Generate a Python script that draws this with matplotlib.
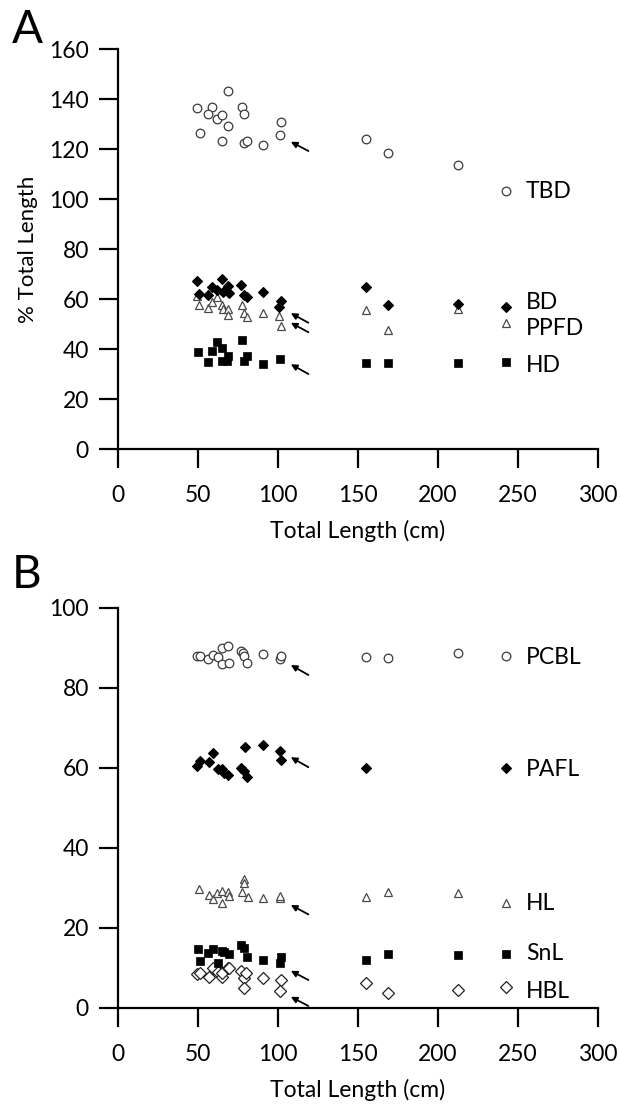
import matplotlib
matplotlib.use("Agg")
import matplotlib.pyplot as plt

plt.rcParams['font.family'] = ['Lato', 'DejaVu Sans']

# ---------------- Panel A data ----------------
tbd_x = [49.6, 59, 56.3, 61.9, 65.2, 69, 77.3, 78.5, 69, 51, 64.8, 78.8, 80.6, 90.4, 101, 101.7, 155.2, 169, 212.3]
tbd_y = [136.3, 136.7, 134, 131.9, 133.5, 143.3, 136.9, 133.9, 129.2, 126.3, 123.2, 122.4, 123.1, 121.6, 125.5, 130.8, 123.9, 118.4, 113.6]

bd_x = [49.4, 64.8, 59, 62.1, 68.5, 69.2, 77.1, 78.8, 80.4, 90.6, 50.8, 56.5, 65.4, 102, 100.8, 155.2, 169, 212.3]
bd_y = [67.2, 67.9, 64.7, 63.6, 65.2, 62.5, 65.7, 61.7, 60.9, 62.8, 61.9, 61.5, 62.9, 59.3, 56.9, 64.9, 57.6, 57.9]

ppfd_x = [49.2, 50.8, 56.5, 59, 61.9, 64.8, 65.4, 69, 68.5, 77.3, 78.5, 80.4, 90.6, 100.8, 101.7, 155.2, 169, 212.3]
ppfd_y = [61.2, 57.6, 56.5, 58.9, 60.9, 57.6, 55.9, 55.9, 53.6, 57.6, 54.3, 52.9, 54.5, 53.2, 49.3, 55.6, 47.6, 55.9]

hd_x = [50.2, 56.5, 59, 61.9, 64.8, 65, 68.8, 68.3, 77.3, 78.8, 80.4, 90.6, 101.3, 155.2, 169, 212.3]
hd_y = [38.9, 34.9, 39.3, 42.9, 40.3, 35.3, 37.2, 35.3, 43.6, 35.3, 37.2, 34.0, 36.1, 34.5, 34.5, 34.5]

# ---------------- Panel B data ----------------
pcbl_x = [49.6, 51.3, 56.5, 59.2, 62.3, 65.2, 69, 65.2, 69.2, 77.1, 78.1, 78.8, 80.6, 90.4, 101, 101.9, 155.2, 169, 212.3]
pcbl_y = [88.1, 88.0, 87.2, 88.3, 87.8, 89.9, 90.6, 85.9, 86.3, 89.2, 88.7, 88.0, 86.3, 88.4, 87.2, 88.0, 87.7, 87.5, 88.7]

pafl_x = [49.6, 51.3, 56.7, 59.2, 62.3, 65, 66.5, 69, 76.9, 78.8, 80.6, 79.2, 90.6, 101.3, 101.9, 155.2]
pafl_y = [60.5, 61.75, 61.4, 63.8, 59.75, 59.7, 58.7, 58.25, 60.1, 59.25, 57.8, 65.3, 65.75, 64.3, 62.0, 60.1]

hl_x = [50.6, 56.9, 59.2, 62, 65.2, 65.2, 69, 69.4, 78.8, 78.8, 77.3, 81, 90.6, 101, 101.5, 155.2, 169, 212.3]
hl_y = [29.75, 28.25, 27.2, 28.7, 29.3, 26.3, 28.9, 28.1, 32.2, 31.3, 28.9, 27.8, 27.4, 27.6, 28.0, 27.7, 29.1, 28.7]

snl_x = [49.8, 51.3, 56.5, 59.2, 62.3, 64.8, 66.5, 69.2, 76.9, 78.8, 80.6, 90.6, 101.7, 101.3, 155.2, 169, 212.3]
snl_y = [14.75, 11.75, 13.7, 14.75, 11.2, 14.25, 13.9, 13.4, 15.75, 15.1, 12.7, 12.0, 12.7, 11.2, 12.0, 13.4, 13.25]

hbl_x = [49.6, 51.3, 56.7, 59.2, 62.3, 65, 65, 68.5, 69.6, 76.9, 78.8, 79.8, 78.8, 90.6, 101.7, 101.3, 155.2, 169, 212.3]
hbl_y = [8.5, 8.8, 7.7, 9.9, 9.1, 7.7, 8.8, 9.9, 9.9, 9.3, 7.4, 8.8, 4.9, 7.4, 7.0, 4.3, 6.3, 3.8, 4.5]

# key (legend) entries: label, marker y, label y
keys_a = [("TBD", 103.2, 103.2), ("BD", 56.7, 58.5), ("PPFD", 50.5, 48.3), ("HD", 34.9, 33.6)]
keys_b = [("PCBL", 88.0, 87.75), ("PAFL", 60.1, 59.5), ("HL", 26.3, 26.25), ("SnL", 13.4, 13.5), ("HBL", 5.3, 4.0)]
key_x = 242.3
key_text_x = 255

# arrows: (head y, tail y) ; head x / tail x shared
arrows_a = [(122.9, 119.2), (54.3, 50.5), (50.5, 46.7), (33.9, 30.0)]
arrows_b = [(85.75, 83.25), (62.7, 60.2), (25.75, 23.4), (9.3, 7.0), (2.8, 0.5)]
arrow_head_x, arrow_tail_x = 108, 119

W, H = 620, 1104
fig = plt.figure(figsize=(W / 100, H / 100), dpi=100)
axA = fig.add_axes([118 / W, 1 - 449 / H, 480 / W, 400 / H])
axB = fig.add_axes([118 / W, 1 - 1008 / H, 480 / W, 400 / H])

FS = 16.5

styles = {
    'circle': dict(marker='o', ms=6.2, mfc='white', mec='#3a3a3a', mew=0.9),
    'diamond': dict(marker='D', ms=5.2, mfc='black', mec='black', mew=0.8),
    'tri': dict(marker='^', ms=6.2, mfc='white', mec='#4a4a4a', mew=0.9),
    'square': dict(marker='s', ms=5.4, mfc='black', mec='black', mew=0.5),
    'odiamond': dict(marker='D', ms=6.0, mfc='white', mec='#222222', mew=0.9),
}

def setup(ax, ymax, ystep):
    ax.set_xlim(0, 300)
    ax.set_ylim(0, ymax)
    ax.set_xticks(range(0, 301, 50))
    ax.set_yticks(range(0, ymax + 1, ystep))
    for s in ['top', 'right']:
        ax.spines[s].set_visible(False)
    for s in ['left', 'bottom']:
        ax.spines[s].set_linewidth(1.6)
    ax.tick_params(direction='out', length=14, width=1.6, labelsize=FS, pad=7)
    ax.tick_params(axis='x', pad=12)
    ax.set_xlabel("Total Length (cm)", fontsize=FS, labelpad=10)

def series(ax, x, y, st):
    ax.plot(x, y, ls='none', clip_on=False, **styles[st])

setup(axA, 160, 20)
series(axA, tbd_x, tbd_y, 'circle')
series(axA, ppfd_x, ppfd_y, 'tri')
series(axA, bd_x, bd_y, 'diamond')
series(axA, hd_x, hd_y, 'square')
for (lab, my, ty), st in zip(keys_a, ['circle', 'diamond', 'tri', 'square']):
    axA.plot([key_x], [my], ls='none', **styles[st])
    axA.text(key_text_x, ty, lab, fontsize=FS, va='center', ha='left')
axA.set_ylabel("% Total Length", fontsize=16, labelpad=8)

setup(axB, 100, 20)
series(axB, pcbl_x, pcbl_y, 'circle')
series(axB, pafl_x, pafl_y, 'diamond')
series(axB, hl_x, hl_y, 'tri')
series(axB, hbl_x, hbl_y, 'odiamond')
series(axB, snl_x, snl_y, 'square')
for (lab, my, ty), st in zip(keys_b, ['circle', 'diamond', 'tri', 'square', 'odiamond']):
    axB.plot([key_x], [my], ls='none', **styles[st])
    axB.text(key_text_x, ty, lab, fontsize=FS, va='center', ha='left')

for ax, arrs in [(axA, arrows_a), (axB, arrows_b)]:
    for hy, ty in arrs:
        ax.annotate('', xy=(arrow_head_x, hy), xytext=(arrow_tail_x, ty),
                    arrowprops=dict(arrowstyle='-|>', color='black', lw=1.3,
                                    mutation_scale=9, shrinkA=0, shrinkB=0))

fig.text(12 / W, 1 - 43 / H, "A", fontsize=33, ha='left', va='baseline')
fig.text(12 / W, 1 - 588 / H, "B", fontsize=33, ha='left', va='baseline')

fig.savefig("out.png", dpi=100)
